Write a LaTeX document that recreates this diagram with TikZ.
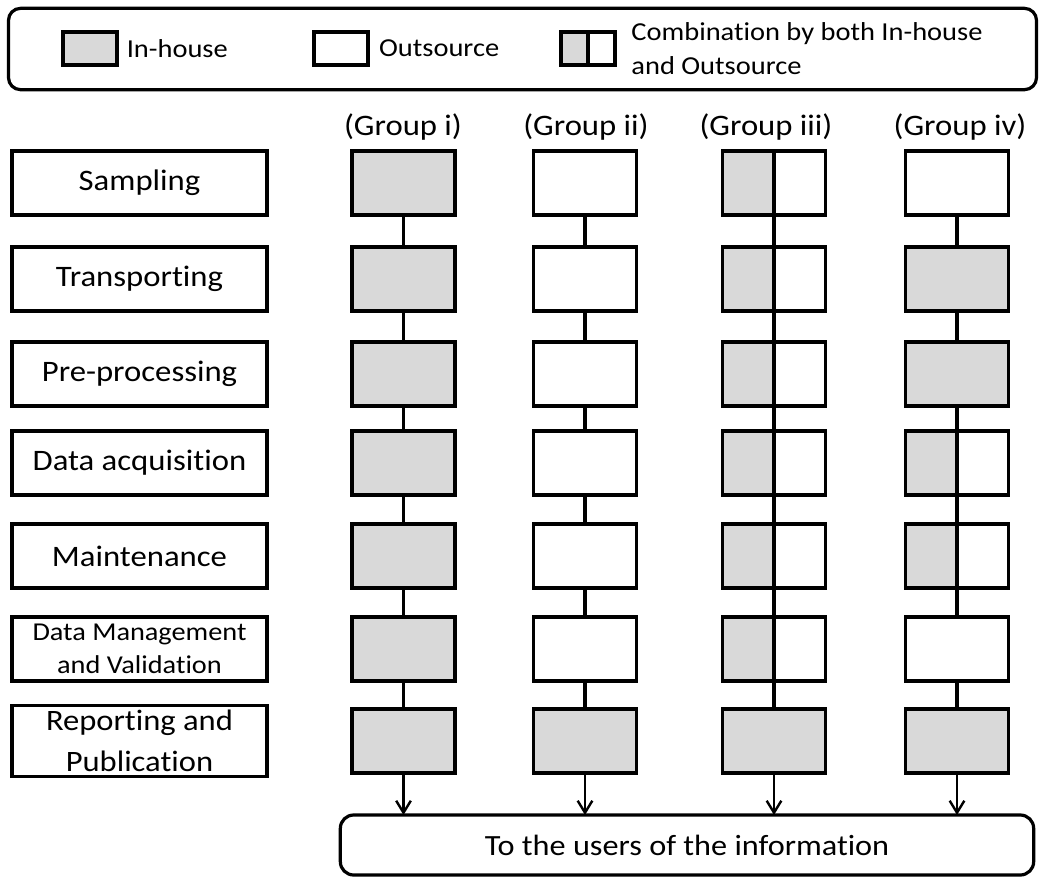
\documentclass[tikz,border=0pt]{standalone}
\usepackage{fontspec}
\setmainfont[FakeStretch=1.1,Ligatures=NoCommon]{Carlito}
\usetikzlibrary{positioning,arrows.meta}

\definecolor{inhouse}{HTML}{D9D9D9}

\begin{document}
\begin{tikzpicture}[x=0.75pt,y=-0.75pt,every node/.style={outer sep=0pt}]
\tikzstyle{stage}=[draw,line width=2.6pt,minimum width=191pt,minimum height=48pt,align=center,font=\fontsize{22.3}{25}\selectfont]
\tikzstyle{outs}=[draw,line width=2.6pt,fill=white,minimum width=77pt,minimum height=48pt]
\tikzstyle{inh}=[outs,fill=inhouse]
\tikzstyle{comb}=[outs,path picture={
    \fill [inhouse] (path picture bounding box.south west) rectangle (path picture bounding box.north);
    \draw [line width=2.4pt] (path picture bounding box.south) -- (path picture bounding box.north);
  }]
\tikzstyle{swatch}=[draw,line width=2.4pt,fill=white,minimum width=40.5pt,minimum height=24.75pt]
\tikzstyle{legtext}=[font=\fontsize{19.4}{25}\selectfont,align=left]
\tikzstyle{head}=[font=\fontsize{22.3}{26}\selectfont]
\tikzstyle{link}=[line width=2.4pt]
\tikzstyle{feed}=[line width=1.8pt,-{Straight Barb[length=9pt,width=11pt]}]

\useasboundingbox (0,0) rectangle (1039,879);

% legend
\node (legend) [draw,line width=2.4pt,rounded corners=9pt,minimum width=771pt,minimum height=61pt] at (522.5,49) {};
\node (kin) [swatch,fill=inhouse] at (90,48.5) {};
\node (tin) [legtext,right=4pt of kin] {In-house};
\node (kout) [swatch] at (341,48.5) {};
\node (tout) [legtext,right=5pt of kout] {Outsource};
\node (kcomb) [swatch,path picture={
    \fill [inhouse] (path picture bounding box.south west) rectangle (path picture bounding box.north);
    \draw [line width=2.4pt] (path picture bounding box.south) -- (path picture bounding box.north);
  }] at (588,48.5) {};
\node (tcomb) [legtext,right=9pt of kcomb] {Combination by both In-house\\and Outsource};

% headers
\node (hi) [head] at (403,127) {(Group i)};
\node (hii) [head] at (586,127) {(Group ii)};
\node (hiii) [head] at (766,127) {(Group iii)};
\node (hiv) [head] at (960,127) {(Group iv)};

% stages
\node (smp) [stage] at (139.5,183) {Sampling};
\node (trn) [stage] at (139.5,279) {Transporting};
\node (pre) [stage] at (139.5,374) {Pre-processing};
\node (acq) [stage] at (139.5,463) {Data acquisition};
\node (mnt) [stage] at (139.5,556) {Maintenance};
\node (dmv) [stage,font=\fontsize{19.3}{25}\selectfont] at (139.5,649) {Data Management\\and Validation};
\node (rep) [stage,font=\fontsize{22.2}{31}\selectfont] at (139.5,741) {Reporting and\\Publication};

% group i
\node (a1) [inh] at (403.5,183) {};
\node (a2) [inh] at (403.5,279) {};
\node (a3) [inh] at (403.5,374) {};
\node (a4) [inh] at (403.5,463) {};
\node (a5) [inh] at (403.5,556) {};
\node (a6) [inh] at (403.5,649) {};
\node (a7) [inh] at (403.5,741) {};

% group ii
\node (b1) [outs] at (585,183) {};
\node (b2) [outs] at (585,279) {};
\node (b3) [outs] at (585,374) {};
\node (b4) [outs] at (585,463) {};
\node (b5) [outs] at (585,556) {};
\node (b6) [outs] at (585,649) {};
\node (b7) [inh] at (585,741) {};

% group iii
\node (c1) [comb] at (774,183) {};
\node (c2) [comb] at (774,279) {};
\node (c3) [comb] at (774,374) {};
\node (c4) [comb] at (774,463) {};
\node (c5) [comb] at (774,556) {};
\node (c6) [comb] at (774,649) {};
\node (c7) [inh] at (774,741) {};

% group iv
\node (d1) [outs] at (957,183) {};
\node (d2) [inh] at (957,279) {};
\node (d3) [inh] at (957,374) {};
\node (d4) [comb] at (957,463) {};
\node (d5) [comb] at (957,556) {};
\node (d6) [outs] at (957,649) {};
\node (d7) [inh] at (957,741) {};

\node (users) [draw,line width=2.4pt,rounded corners=10pt,minimum width=520pt,minimum height=45pt,font=\fontsize{22}{26}\selectfont] at (687,845) {To the users of the information};

\draw [link] (a1) -- (a2) -- (a3) -- (a4) -- (a5) -- (a6) -- (a7);
\draw [link] (b1) -- (b2) -- (b3) -- (b4) -- (b5) -- (b6) -- (b7);
\draw [link] (c1) -- (c2) -- (c3) -- (c4) -- (c5) -- (c6) -- (c7);
\draw [link] (d1) -- (d2) -- (d3) -- (d4) -- (d5) -- (d6) -- (d7);

\draw [feed] (a7) -- (a7 |- users.north);
\draw [feed] (b7) -- (b7 |- users.north);
\draw [feed] (c7) -- (c7 |- users.north);
\draw [feed] (d7) -- (d7 |- users.north);
\end{tikzpicture}
\end{document}
